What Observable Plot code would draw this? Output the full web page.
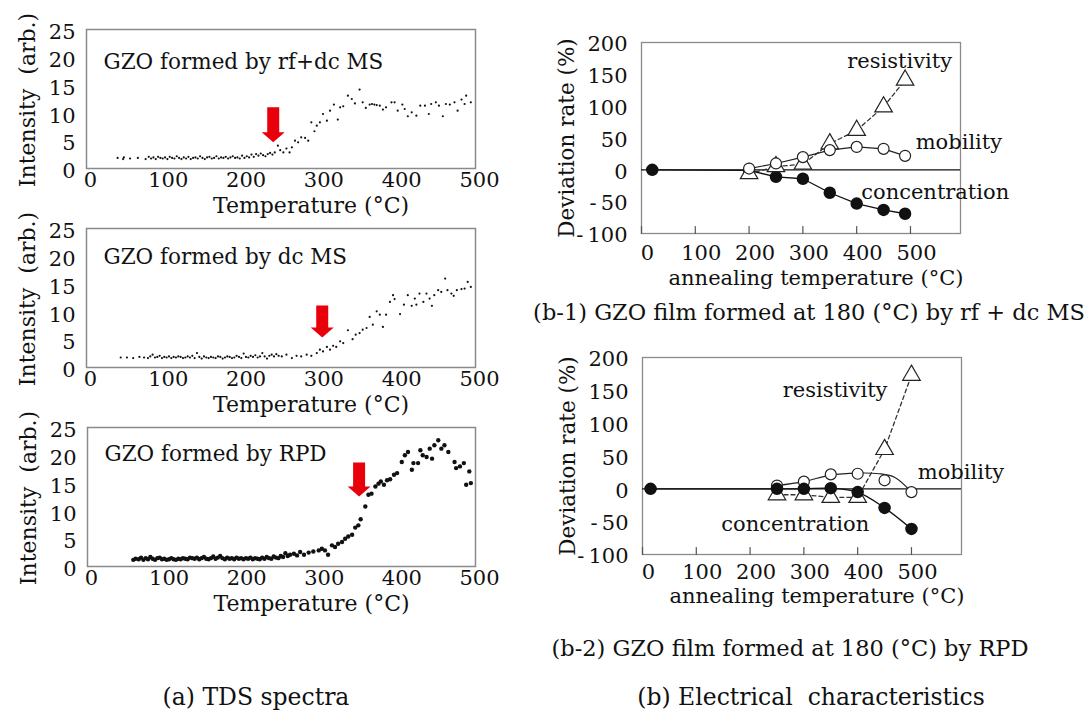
<!DOCTYPE html>
<html><head><meta charset="utf-8">
<script src="https://cdn.jsdelivr.net/npm/d3@7"></script>
<script src="https://cdn.jsdelivr.net/npm/@observablehq/plot@0.6"></script>
<style>
body{margin:0;background:#fff;}
#root{position:relative;width:1086px;height:718px;overflow:hidden;font-family:"DejaVu Serif",serif;color:#111;background:#fff;}
.panel{position:absolute;}
.cap{position:absolute;font-size:22.5px;white-space:pre;transform:translate(-50%,-50%);}
</style></head><body><div id="root"></div>
<script>
// ---------- data ----------
const tempTicks = [0, 100, 200, 300, 400, 500];
const intensityTicks = [0, 5, 10, 15, 20, 25];
const deviationTicks = [-100, -50, 0, 50, 100, 150, 200];

// (a) TDS spectra: [temperature °C, intensity arb.]
const tdsRfDc = [[40,1.9],[47,1.7],[48,2.0],[56,1.8],[66,1.9],[76,1.7],[80,2.1],[83,1.8],[86,2.0],[89,1.7],[92,2.1],[95,1.9],[98,1.8],[101,2.0],[104,1.7],[107,2.1],[110,1.9],[113,1.8],[116,2.2],[119,1.9],[122,1.7],[125,2.0],[128,1.8],[131,2.1],[134,1.7],[137,1.9],[140,2.0],[143,1.8],[146,2.2],[149,1.9],[152,1.7],[155,2.0],[158,2.1],[161,1.8],[164,1.9],[167,2.2],[170,1.8],[173,2.0],[176,1.9],[179,2.1],[182,1.8],[185,2.0],[188,2.2],[191,1.9],[194,2.0],[197,1.8],[200,2.3],[203,1.9],[206,2.2],[209,2.0],[212,2.5],[215,2.1],[218,2.6],[221,2.3],[224,2.7],[227,2.4],[230,2.2],[233,2.6],[236,2.8],[239,2.5],[242,2.9],[246,4.1],[249,3.3],[253,2.9],[257,3.6],[261,2.9],[264,3.8],[268,5.0],[272,4.7],[276,5.6],[281,5.5],[285,5.0],[289,8.3],[293,6.7],[296,7.7],[300,8.3],[304,9.8],[309,8.6],[313,10.4],[318,11.5],[323,8.8],[326,11.0],[330,11.2],[336,13.1],[341,12.5],[345,11.7],[351,14.2],[355,11.9],[359,10.9],[364,11.5],[367,11.6],[370,11.5],[373,11.4],[377,11.3],[381,10.6],[385,11.0],[392,11.9],[396,11.9],[400,10.4],[406,11.5],[409,10.7],[413,9.4],[418,10.1],[424,9.5],[429,11.3],[435,11.3],[440,9.8],[443,11.6],[449,11.9],[453,11.3],[458,9.4],[462,11.6],[467,11.5],[473,11.9],[477,10.4],[482,12.4],[486,11.6],[488,13.1],[494,11.9]];

const tdsDc = [[44,1.8],[52,1.8],[60,1.7],[68,1.9],[74,1.8],[79,1.7],[82,2.0],[85,2.3],[88,1.8],[91,1.9],[94,2.1],[97,1.7],[100,1.9],[103,1.8],[106,2.0],[109,1.7],[112,1.9],[115,1.8],[118,2.0],[121,1.9],[124,1.7],[127,1.8],[130,2.0],[133,1.8],[136,2.1],[139,1.7],[142,2.6],[145,1.9],[148,1.6],[151,2.0],[154,1.8],[157,1.7],[160,1.9],[163,1.8],[166,1.7],[169,2.0],[172,1.9],[175,1.6],[178,1.8],[181,2.0],[184,1.9],[187,1.7],[190,1.8],[193,2.1],[196,1.9],[199,1.7],[202,2.5],[205,1.9],[208,1.8],[211,2.1],[214,1.9],[217,2.2],[220,1.8],[223,2.0],[226,2.6],[229,2.0],[232,1.6],[235,2.1],[238,2.3],[241,2.0],[244,2.4],[247,2.1],[251,2.0],[257,2.3],[264,1.7],[270,2.1],[276,2.0],[283,2.3],[289,2.1],[296,2.6],[300,3.2],[304,2.9],[309,3.7],[313,3.2],[317,3.9],[321,3.7],[326,4.7],[330,4.4],[336,6.7],[342,5.1],[346,5.9],[351,6.2],[355,6.8],[360,7.1],[364,9.1],[368,7.7],[373,10.1],[377,9.5],[381,7.3],[385,9.5],[390,11.8],[394,13.0],[396,12.3],[403,9.6],[408,11.3],[413,13.0],[418,11.1],[422,12.4],[424,11.3],[428,13.3],[433,11.8],[437,13.3],[441,12.4],[444,11.1],[447,13.0],[452,13.9],[456,13.6],[461,16.0],[464,13.9],[469,13.3],[472,12.9],[476,13.9],[482,14.1],[486,14.2],[490,15.4],[494,14.5]];

const tdsRpd = [[59,1.2],[62,1.4],[66,1.3],[69,1.6],[72,1.2],[75,1.5],[78,1.3],[81,1.7],[84,1.4],[87,1.2],[90,1.5],[93,1.6],[96,1.3],[99,1.4],[102,1.2],[105,1.3],[108,1.5],[111,1.3],[114,1.2],[117,1.4],[120,1.3],[123,1.5],[126,1.4],[129,1.3],[132,1.6],[135,1.5],[138,1.4],[141,1.6],[144,1.3],[147,1.5],[150,1.7],[153,1.4],[156,1.3],[159,1.5],[162,1.8],[165,1.4],[168,1.6],[171,1.9],[174,1.5],[177,1.3],[180,1.6],[183,1.4],[186,1.5],[189,1.3],[192,1.6],[195,1.4],[198,1.5],[201,1.3],[204,1.5],[207,1.4],[210,1.6],[213,1.3],[216,1.5],[219,1.4],[222,1.3],[225,1.6],[228,1.4],[231,1.7],[234,1.5],[237,1.4],[240,1.8],[243,1.6],[246,1.5],[249,1.9],[252,1.7],[255,2.4],[258,1.9],[261,2.1],[266,2.3],[270,2.0],[274,2.6],[279,2.1],[285,2.5],[291,2.7],[298,2.9],[302,3.2],[306,2.9],[310,2.1],[315,3.8],[319,3.5],[323,4.1],[328,4.4],[332,5.0],[336,5.4],[341,5.7],[345,7.0],[349,7.4],[352,8.5],[358,10.8],[362,12.9],[366,13.1],[371,14.4],[375,14.9],[378,15.3],[382,14.7],[386,15.5],[390,15.7],[395,16.5],[399,16.8],[405,18.8],[409,20.0],[413,20.6],[418,17.4],[420,18.6],[426,18.6],[429,20.9],[432,20.0],[437,19.7],[441,21.2],[444,19.4],[447,21.8],[452,22.7],[456,21.2],[460,21.8],[465,20.6],[473,18.8],[475,17.7],[480,18.0],[485,18.6],[488,14.7],[492,17.1],[494,15.0]];

// onset arrows (tip) : temperature, intensity
const arrowRfDc = [{t: 240, v: 4.7}];
const arrowDc = [{t: 303, v: 5.4}];
const arrowRpd = [{t: 350, v: 12.6}];

// (b-1) rf + dc MS: [annealing °C, deviation %]
const b1Concentration = [[20,0],[200,-1],[250,-11],[300,-14],[350,-36],[400,-53],[450,-63],[490,-69]];
const b1Mobility = [[200,2],[250,10],[300,20],[350,31],[400,36],[450,33],[490,22]];
const b1Resistivity = [[200,-6],[250,5],[300,9],[350,41],[400,62],[450,99],[490,141]];

// (b-2) RPD
const b2Concentration = [[15,0],[250,0],[300,0],[350,1],[400,-5],[450,-29],[500,-61]];
const b2Mobility = [[250,5],[300,11],[350,22],[400,23],[450,13],[500,-5]];
const b2MobilityCurve = [[250,5],[300,11],[350,21],[400,24],[440,23],[470,17],[500,-5]];
const b2Resistivity = [[250,-9],[300,-9],[350,-13],[400,-13],[450,60],[500,173]];

const b1Notes = [{text: "resistivity", x: 480, y: 170}, {text: "mobility", x: 590, y: 44}, {text: "concentration", x: 546, y: -36}];
const b2Notes = [{text: "resistivity", x: 358, y: 150}, {text: "mobility", x: 592, y: 25}, {text: "concentration", x: 284, y: -54}];

// ---------- drawing ----------
const root = document.getElementById("root");
const FONT = "DejaVu Serif";
const baseStyle = {background: "transparent", overflow: "visible", fontFamily: FONT, fontSize: "21px", color: "#111"};

function place(svg, left, top) {
  const d = document.createElement("div");
  d.className = "panel";
  d.style.left = left + "px";
  d.style.top = top + "px";
  d.appendChild(svg);
  root.appendChild(d);
}

const blockArrow = {
  draw(ctx, l) {
    const sw = 6, hw = 11.5, hl = 10;
    ctx.moveTo(-sw, 0);
    ctx.lineTo(-sw, -l + hl);
    ctx.lineTo(-hw, -l + hl);
    ctx.lineTo(0, -l);
    ctx.lineTo(hw, -l + hl);
    ctx.lineTo(sw, -l + hl);
    ctx.lineTo(sw, 0);
    ctx.closePath();
  }
};
const innerTick = {draw(ctx, l) { ctx.moveTo(0, 0); ctx.lineTo(0, -l); }};

function tdsPanel(data, title, arrow, arrowLen, top, mt, ml, r, titleDy) {
  const svg = Plot.plot({
    width: 530, height: 225,
    marginLeft: ml, marginRight: 530 - 475, marginTop: mt, marginBottom: 225 - 168 - (mt - 29),
    style: baseStyle,
    x: {domain: [0, 500]},
    y: {domain: [0, 25]},
    marks: [
      Plot.frame({stroke: "#8a8a8a", strokeWidth: 1.5}),
      Plot.axisX({ticks: tempTicks, tickSize: 0, tickPadding: 4, dx: 4, label: null, fontSize: 21}),
      Plot.axisY({ticks: intensityTicks, tickSize: 0, tickPadding: 11, dy: 3, label: null, fontSize: 21}),
      Plot.dot(data, {x: d => d[0], y: d => d[1], r, fill: "#111", stroke: "none"}),
      Plot.vector(arrow, {x: "t", y: "v", length: arrowLen, rotate: 180, anchor: "end", shape: blockArrow, fill: "#e8000b", stroke: "none"}),
      Plot.text([title], {frameAnchor: "top-left", dx: 17, dy: titleDy, textAnchor: "start", fontSize: 21.5}),
      Plot.text(["Temperature (°C)"], {frameAnchor: "bottom", dx: 30, dy: 44, textAnchor: "middle", fontSize: 22}),
      Plot.text(["Intensity  (arb.)"], {frameAnchor: "left", rotate: -90, dx: -59, dy: 1, textAnchor: "middle", fontSize: 22})
    ]
  });
  place(svg, 0, top);
}

tdsPanel(tdsRfDc, "GZO formed by rf+dc MS", arrowRfDc, 35, 0, 29, 86, 1.1, 24);
tdsPanel(tdsDc, "GZO formed by dc MS", arrowDc, 32, 200, 28, 86, 1.1, 20);
tdsPanel(tdsRpd, "GZO formed by RPD", arrowRpd, 34, 400, 27, 87, 2.2, 18);

const devFormat = d => d < 0 ? "-\u2009" + (-d) : String(d);

function devPanel(conc, mob, mobCurve, res, notes, top, mt, mb, ml, mr, tickPad, titleDy, curve) {
  const pts = () => ({x: d => d[0], y: d => d[1]});
  const svg = Plot.plot({
    width: 556, height: 300,
    marginLeft: ml, marginRight: mr, marginTop: mt, marginBottom: mb,
    style: baseStyle,
    x: {domain: [0, 593]},
    y: {domain: [-100, 200]},
    marks: [
      Plot.frame({stroke: "#8a8a8a", strokeWidth: 1.3}),
      Plot.ruleY([0], {stroke: "#111", strokeWidth: 1.3}),
      Plot.vector(tempTicks, {x: d => d, frameAnchor: "bottom", length: 7, anchor: "start", shape: innerTick, stroke: "#555", strokeWidth: 1.2}),
      Plot.axisX({ticks: tempTicks, tickSize: 0, tickPadding: tickPad, dx: 6, label: null, fontSize: 21}),
      Plot.axisY({ticks: deviationTicks, tickSize: 0, tickPadding: 14, dy: 2, tickFormat: devFormat, label: null, fontSize: 21}),
      Plot.line(res, {...pts(), stroke: "#333", strokeWidth: 1.3, strokeDasharray: "4,3"}),
      Plot.line(mobCurve, {...pts(), stroke: "#222", strokeWidth: 1.2, curve}),
      Plot.line(conc, {...pts(), stroke: "#111", strokeWidth: 1.3, curve}),
      ...(top === 0 ? [
        Plot.dot(conc, {...pts(), r: 5.5, fill: "#111", stroke: "#111"}),
        Plot.dot(res, {...pts(), symbol: "triangle", r: 6.5, fill: "white", stroke: "#222", strokeWidth: 1.2}),
        Plot.dot(mob, {...pts(), r: 5.5, fill: "white", stroke: "#222", strokeWidth: 1.2})
      ] : [
        Plot.dot(mob, {...pts(), r: 5.5, fill: "white", stroke: "#222", strokeWidth: 1.2}),
        Plot.dot(res, {...pts(), symbol: "triangle", r: 6.5, fill: "white", stroke: "#222", strokeWidth: 1.2}),
        Plot.dot(conc, {...pts(), r: 5.5, fill: "#111", stroke: "#111"})
      ]),
      Plot.text(notes, {x: "x", y: "y", text: "text", fontSize: 21}),
      Plot.text(["annealing temperature (°C)"], {frameAnchor: "bottom", dx: 15, dy: titleDy, textAnchor: "middle", fontSize: 21}),
      Plot.text(["Deviation rate (%)"], {frameAnchor: "left", rotate: -90, dx: -74, textAnchor: "middle", fontSize: 21.5})
    ]
  });
  place(svg, 530, top);
}

devPanel(b1Concentration, b1Mobility, b1Mobility, b1Resistivity, b1Notes, 0, 42, 67, 111, 126, 12, 51, "linear");
devPanel(b2Concentration, b2Mobility, b2MobilityCurve, b2Resistivity, b2Notes, 300, 57, 46, 112, 125, 10, 48, "catmull-rom");

const captions = [
  {text: "(b-1) GZO film formed at 180 (°C) by rf + dc MS", x: 809, y: 312, size: 22.5},
  {text: "(b-2) GZO film formed at 180 (°C) by RPD", x: 790, y: 648, size: 22.5},
  {text: "(a) TDS spectra", x: 256, y: 697, size: 23.5},
  {text: "(b) Electrical  characteristics", x: 811, y: 697, size: 23.5}
];
for (const c of captions) {
  const d = document.createElement("div");
  d.className = "cap";
  d.textContent = c.text;
  d.style.left = c.x + "px";
  d.style.top = c.y + "px";
  d.style.fontSize = c.size + "px";
  root.appendChild(d);
}
</script></body></html>
